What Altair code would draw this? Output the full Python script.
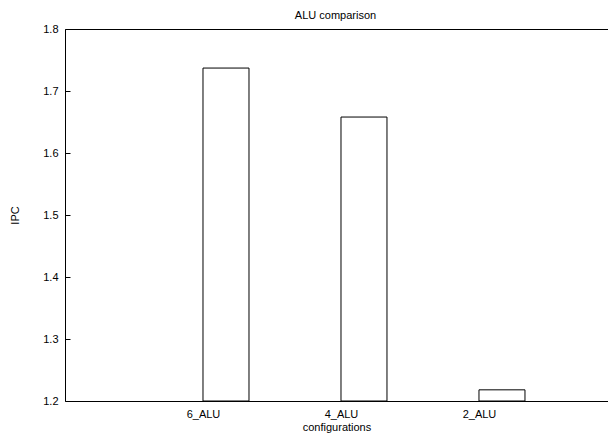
import altair as alt
import pandas as pd

categories = ["6_ALU", "4_ALU", "2_ALU"]
positions = [0, 1, 2]
ipc = [1.737, 1.658, 1.218]
ytick_values = [1.2, 1.3, 1.4, 1.5, 1.6, 1.7, 1.8]

df = pd.DataFrame({"config": categories, "pos": positions, "ipc": ipc})

FONT = "Liberation Sans"
label_expr = "datum.value == 0 ? '6_ALU' : datum.value == 1 ? '4_ALU' : datum.value == 2 ? '2_ALU' : ''"

# visible part of the x range (the reference is cropped on the right)
xscale = alt.Scale(domain=[-1, 2.935], nice=False, zero=False)
yscale = alt.Scale(domain=[1.2, 1.8], nice=False, zero=False)

base = alt.Chart(df).transform_calculate(
    pos2="datum.pos + 1/3", base="1.2"
)

bars = base.mark_bar(fill="white", stroke="black", strokeWidth=1).encode(
    x=alt.X("pos:Q", scale=xscale,
            axis=alt.Axis(orient="bottom", values=positions, labelExpr=label_expr,
                          ticks=False, grid=False, domainColor="black", domainWidth=1,
                          labelFont=FONT, labelFontSize=11, labelColor="black",
                          labelPadding=7, title="configurations", titleFont=FONT,
                          titleFontSize=11, titleFontWeight="normal", titleColor="black",
                          titlePadding=2)),
    x2="pos2:Q",
    y=alt.Y("ipc:Q", scale=yscale,
            axis=alt.Axis(orient="left", values=ytick_values, format=".1f",
                          ticks=False, grid=False, domainColor="black", domainWidth=1,
                          labelFont=FONT, labelFontSize=11, labelColor="black",
                          labelPadding=7, title="IPC", titleFont=FONT,
                          titleFontSize=11, titleFontWeight="normal", titleColor="black",
                          titlePadding=22)),
    y2="base:Q",
)

ghost = base.mark_point(opacity=0).encode(
    x=alt.X("pos:Q", scale=xscale,
            axis=alt.Axis(orient="top", ticks=False, labels=False, grid=False,
                          domainColor="black", domainWidth=1, title=None)),
    y=alt.Y("ipc:Q", scale=yscale,
            axis=alt.Axis(orient="left", values=ytick_values, offset=-5, tickSize=5,
                          tickColor="black", ticks=True, labels=False, domain=False,
                          grid=False, title=None)),
)

chart = alt.layer(bars, ghost).resolve_axis(x="independent", y="independent").properties(
    width=543, height=372,
    autosize=alt.AutoSizeParams(type="none"),
    padding={"left": 57, "top": 21, "right": 0, "bottom": 32},
    title=alt.TitleParams("ALU comparison", font=FONT, fontSize=11, fontWeight="normal",
                          color="black", anchor="middle", offset=2, dx=-1),
).configure_view(stroke=None).configure(background="white")

chart.save("out.html", embed_options={"renderer": "svg", "actions": False})
